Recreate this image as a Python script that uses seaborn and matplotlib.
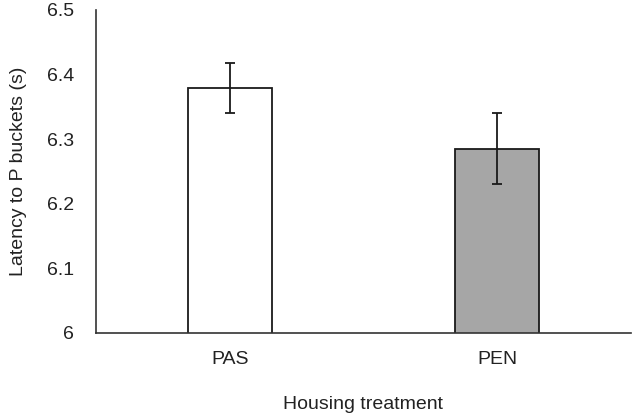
import pandas as pd
import seaborn as sns
import matplotlib.pyplot as plt

# values
treatment = ['PAS', 'PEN']
latency = [6.379, 6.285]
sem = [0.039, 0.055]
bar_colors = ['white', '#a6a6a6']

df = pd.DataFrame({'Treatment': treatment, 'Latency': latency})

sns.set_style('white')
plt.rcParams['font.family'] = ['Liberation Sans', 'DejaVu Sans']

fig = plt.figure(figsize=(6.32, 4.13), dpi=100)
ax = fig.add_axes([0.152, 0.194, 0.846, 0.782])

sns.barplot(data=df, x='Treatment', y='Latency', hue='Treatment',
            palette=bar_colors, width=0.315, edgecolor='#1a1a1a',
            linewidth=1.3, legend=False, ax=ax)
ax.errorbar(x=range(len(treatment)), y=latency, yerr=sem, fmt='none',
            ecolor='#1a1a1a', elinewidth=1.3, capsize=3.5, capthick=1.3)

ax.set_ylim(6, 6.5)
ax.set_yticks([6, 6.1, 6.2, 6.3, 6.4, 6.5])
ax.set_yticklabels(['6', '6.1', '6.2', '6.3', '6.4', '6.5'])
ax.set_xlim(-0.5, 1.5)

for s in ['top', 'right']:
    ax.spines[s].set_visible(False)
for s in ['left', 'bottom']:
    ax.spines[s].set_color('#333333')
    ax.spines[s].set_linewidth(1.2)

ax.tick_params(axis='y', labelsize=14, colors='#222222', length=0, pad=16)
ax.tick_params(axis='x', labelsize=14, colors='#222222', length=0, pad=13)
ax.set_xlabel('Housing treatment', fontsize=14, color='#222222', labelpad=20)
ax.set_ylabel('Latency to P buckets (s)', fontsize=14, color='#222222', labelpad=14)

plt.savefig('out.png', dpi=100)
